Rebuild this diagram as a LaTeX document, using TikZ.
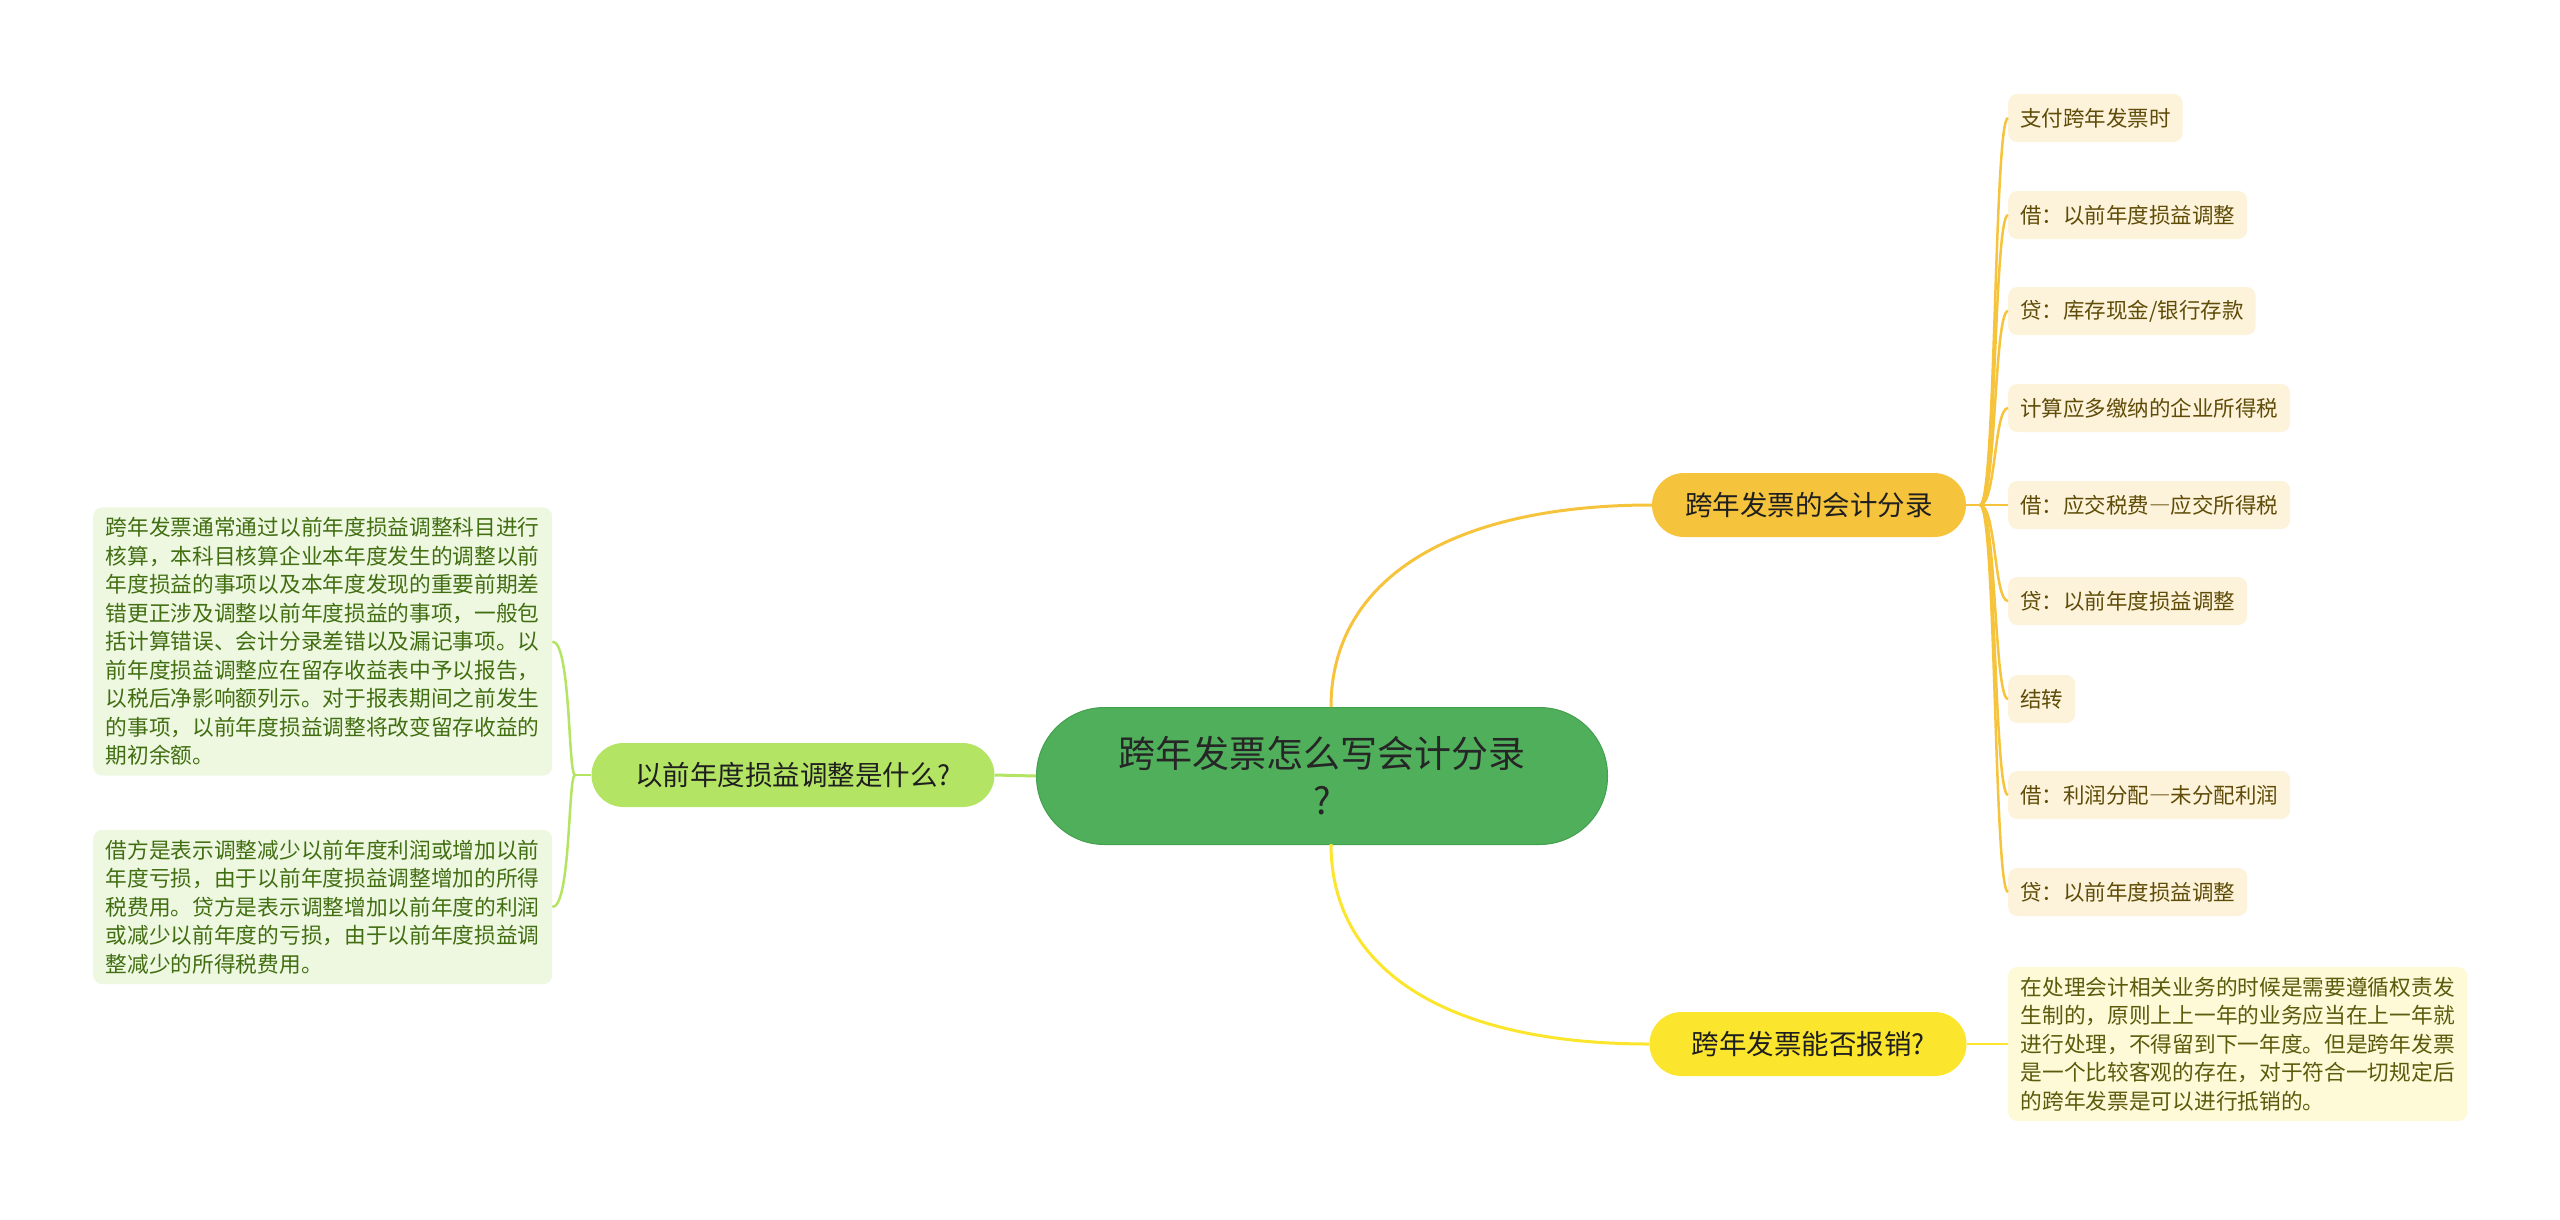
\documentclass[tikz,border=0pt]{standalone}
\usepackage{fontspec}
\setmainfont{Noto Sans CJK SC}
\usepackage{xcolor}
\usepackage{tikz}
\usetikzlibrary{positioning, calc}

\definecolor{rootgreen}{HTML}{4FAF5B}
\definecolor{rootedge}{HTML}{43A04F}
\definecolor{limegreen}{HTML}{B4E464}
\definecolor{gold}{HTML}{F6C33C}
\definecolor{lemon}{HTML}{FBE52D}
\definecolor{leaffill}{HTML}{FDF3DA}
\definecolor{leaftext}{HTML}{5F4C08}
\definecolor{memogreen}{HTML}{EEF8E1}
\definecolor{memogtext}{HTML}{426E12}
\definecolor{memoyellow}{HTML}{FEFAD8}
\definecolor{memoytext}{HTML}{5C5A0C}

\newcommand{\fdash}{{\addfontfeature{RawFeature=+fwid}—}}

\begin{document}
\begin{tikzpicture}[x=1pt, y=-1pt,
    root/.style={fill=rootgreen, draw=rootedge, line width=1pt, rounded corners=68pt,
      minimum width=571pt, minimum height=137pt, align=center, text=black!85,
      font=\fontsize{37pt}{47pt}\selectfont},
    branch/.style={rounded corners=32pt, minimum height=64pt, inner xsep=0pt,
      text=black!88, font=\fontsize{27.5pt}{33pt}\selectfont},
    leaf/.style={fill=leaffill, rounded corners=9pt, minimum height=48pt, inner xsep=12pt,
      anchor=west, text=leaftext, font=\fontsize{21.5pt}{26pt}\selectfont},
    memo/.style={rounded corners=9pt, minimum width=459pt, inner xsep=12pt, inner ysep=10pt,
      anchor=west, align=left, font=\fontsize{21.7pt}{28.5pt}\selectfont},
    lnk/.style={line width=3pt},
    twig/.style={line width=2.5pt, gold}]
  \useasboundingbox (0,0) rectangle (2560,1219);

  % centre topic
  \node[root] (main) at (1322,776) {跨年发票怎么写会计分录\\?};

  % main branches
  \node[branch, fill=limegreen, minimum width=403pt] (lq) at (793,775) {以前年度损益调整是什么?};
  \node[branch, fill=gold, minimum width=314pt] (entry) at (1809,505) {跨年发票的会计分录};
  \node[branch, fill=lemon, minimum width=317pt] (claim) at (1808,1044) {跨年发票能否报销?};

  \draw[lnk, limegreen] (main.west) -- (lq.east);
  \draw[lnk, gold] (1331,707) .. controls (1331,580) and (1450,505) .. (entry.west);
  \draw[lnk, lemon] (1331,844) .. controls (1331,972) and (1450,1044) .. (claim.west);

  % left notes
  \node[memo, fill=memogreen, text=memogtext] (memo1) at (93,641.5)
    {跨年发票通常通过以前年度损益调整科目进行\\
     核算，本科目核算企业本年度发生的调整以前\\
     年度损益的事项以及本年度发现的重要前期差\\
     错更正涉及调整以前年度损益的事项，一般包\\
     括计算错误、会计分录差错以及漏记事项。以\\
     前年度损益调整应在留存收益表中予以报告，\\
     以税后净影响额列示。对于报表期间之前发生\\
     的事项，以前年度损益调整将改变留存收益的\\
     期初余额。};
  \node[memo, fill=memogreen, text=memogtext] (memo2) at (93,907)
    {借方是表示调整减少以前年度利润或增加以前\\
     年度亏损，由于以前年度损益调整增加的所得\\
     税费用。贷方是表示调整增加以前年度的利润\\
     或减少以前年度的亏损，由于以前年度损益调\\
     整减少的所得税费用。};

  \coordinate (jl) at (575,775);
  \draw[line width=2.5pt, limegreen] (lq.west) -- (jl);
  \draw[line width=2.5pt, limegreen] (jl) .. controls (568,775) and (571,641.5) .. (memo1.east);
  \draw[line width=2.5pt, limegreen] (jl) .. controls (568,775) and (571,907) .. (memo2.east);

  % accounting entries
  \coordinate (jr) at (1980,505);
  \draw[twig] (entry.east) -- (jr);
  \foreach \y/\txt [count=\i] in {118/支付跨年发票时, 215/借：以前年度损益调整,
      311/{贷：库存现金/银行存款}, 408/计算应多缴纳的企业所得税,
      505/借：应交税费\fdash 应交所得税, 601/贷：以前年度损益调整, 699/结转,
      795/借：利润分配\fdash 未分配利润, 892/贷：以前年度损益调整} {
    \node[leaf] (leaf\i) at (2008,\y) {\txt};
    \draw[twig] (jr) .. controls (1996,505) and (1994,\y) .. (leaf\i.west);
  }

  % reimbursement note
  \node[memo, fill=memoyellow, text=memoytext] (memo3) at (2008,1044)
    {在处理会计相关业务的时候是需要遵循权责发\\
     生制的，原则上上一年的业务应当在上一年就\\
     进行处理，不得留到下一年度。但是跨年发票\\
     是一个比较客观的存在，对于符合一切规定后\\
     的跨年发票是可以进行抵销的。};
  \draw[line width=2.5pt, lemon] (claim.east) -- (memo3.west);
\end{tikzpicture}
\end{document}
